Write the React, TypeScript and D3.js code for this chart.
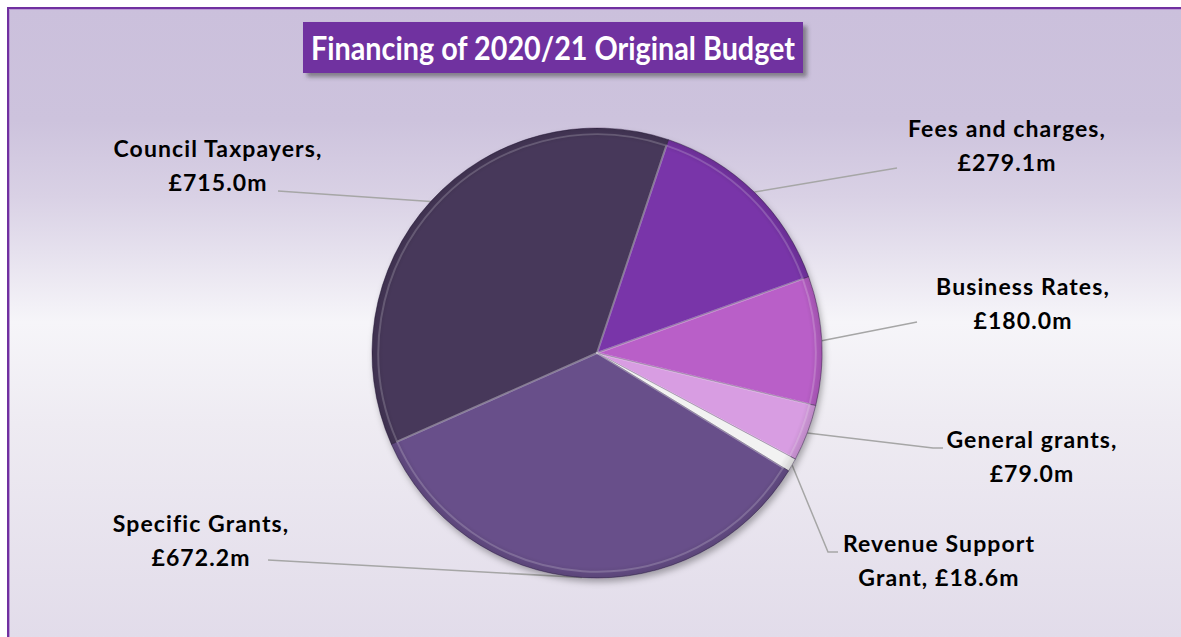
import React from "react";
import * as d3 from "d3";

const categories = [
  "Fees and charges",
  "Business Rates",
  "General grants",
  "Revenue Support Grant",
  "Specific Grants",
  "Council Taxpayers",
];
const values = [279.1, 180.0, 79.0, 18.6, 672.2, 715.0];
const labelLines = [
  ["Fees and charges,", "£279.1m"],
  ["Business Rates,", "£180.0m"],
  ["General grants,", "£79.0m"],
  ["Revenue Support", "Grant, £18.6m"],
  ["Specific Grants,", "£672.2m"],
  ["Council Taxpayers,", "£715.0m"],
];
const title = "Financing of 2020/21 Original Budget";

// layout (not data)
const sliceColors = ["#7936a9", "#b95fc8", "#d89de2", "#f2f2f2", "#67508a", "#46375a"];
const labelPos = [
  { x: 1007, y: 137, leader: [[897, 168]] },
  { x: 1023, y: 295, leader: [[917, 322]] },
  { x: 1032, y: 448, leader: [[933, 448], [943, 448]] },
  { x: 939, y: 552, leader: [[828, 552], [838, 552]] },
  { x: 201, y: 532, leader: [[268, 560]] },
  { x: 218, y: 157, leader: [[278, 191]] },
];
const W = 1181;
const H = 637;
const cx = 597;
const cy = 353;
const R = 225;
const FONT = "Lato, 'Open Sans', sans-serif";

export default function App() {
  const start = (18.5 * Math.PI) / 180;
  const pie = d3
    .pie<number>()
    .sort(null)
    .value((d) => d)
    .startAngle(start)
    .endAngle(start + 2 * Math.PI);
  const arcs = pie(values);
  const arc = d3.arc<d3.PieArcDatum<number>>().innerRadius(0).outerRadius(R);
  const innerArc = d3.arc<d3.PieArcDatum<number>>().innerRadius(0).outerRadius(R - 3);
  const edgeArc = d3.arc<d3.PieArcDatum<number>>().innerRadius(R).outerRadius(R);

  return (
    <svg
      width={W}
      height={H}
      style={{ position: "absolute", left: 0, top: 0 }}
      xmlns="http://www.w3.org/2000/svg"
    >
      <defs>
        <linearGradient id="bg" gradientUnits="userSpaceOnUse" x1="0" y1="8" x2="0" y2="637">
          <stop offset="0" stopColor="#cbc0dc" />
          <stop offset="0.18" stopColor="#cdc3dd" />
          <stop offset="0.3" stopColor="#d9d1e5" />
          <stop offset="0.5" stopColor="#f6f5f9" />
          <stop offset="0.66" stopColor="#eeebf2" />
          <stop offset="1" stopColor="#e2dcea" />
        </linearGradient>
        <filter id="shadow" x="-20%" y="-20%" width="140%" height="140%">
          <feDropShadow dx="2" dy="4" stdDeviation="3" floodColor="#000" floodOpacity="0.3" />
        </filter>
        <filter id="tshadow" x="-10%" y="-30%" width="120%" height="160%">
          <feDropShadow dx="4" dy="4" stdDeviation="2" floodColor="#444" floodOpacity="0.55" />
        </filter>
        <radialGradient id="sheen" cx={cx} cy={cy} r={R} gradientUnits="userSpaceOnUse">
          <stop offset="0.95" stopColor="#000" stopOpacity="0" />
          <stop offset="0.995" stopColor="#000" stopOpacity="0.12" />
          <stop offset="1" stopColor="#000" stopOpacity="0.2" />
        </radialGradient>
      </defs>

      <rect x={0} y={0} width={W} height={H} fill="#fff" />
      <rect x={8} y={8} width={W + 20} height={H + 20} fill="url(#bg)" stroke="#7030a0" strokeWidth={2} />
      <line x1={9.5} y1={9.5} x2={9.5} y2={H} stroke="#b99ad3" strokeWidth={1} />
      <line x1={9.5} y1={9.5} x2={W} y2={9.5} stroke="#b99ad3" strokeWidth={1} />

      {/* Title */}
      <g filter="url(#tshadow)">
        <rect x={303} y={22} width={500} height={51} fill="#7030a0" />
      </g>
      <text
        x={553}
        y={60}
        textAnchor="middle"
        fill="#fff"
        fontFamily={FONT}
        fontWeight={700}
        fontSize={32}
        textLength={484}
        lengthAdjust="spacingAndGlyphs"
      >
        {title}
      </text>

      {/* Leader lines */}
      {arcs.map((a, i) => {
        const [ex, ey] = edgeArc.centroid(a);
        const pts = [[cx + ex, cy + ey], ...labelPos[i].leader];
        return (
          <polyline
            key={"l" + i}
            points={pts.map((p) => p.join(",")).join(" ")}
            fill="none"
            stroke="#a6a6a6"
            strokeWidth={1.5}
          />
        );
      })}

      {/* Pie */}
      <g transform={`translate(${cx},${cy})`} filter="url(#shadow)">
        {arcs.map((a, i) => (
          <path
            key={"s" + i}
            d={arc(a) || ""}
            fill={sliceColors[i]}
            stroke="rgba(40,25,60,0.4)"
            strokeWidth={1}
            strokeLinejoin="round"
          />
        ))}
      </g>
      <g transform={`translate(${cx},${cy})`}>
        {arcs.map((a, i) => (
          <path
            key={"h" + i}
            d={innerArc(a) || ""}
            fill="none"
            stroke="rgba(255,255,255,0.2)"
            strokeWidth={2}
            strokeLinejoin="round"
            transform="scale(0.985)"
          />
        ))}
      </g>
      <circle cx={cx} cy={cy} r={R} fill="url(#sheen)" />

      {/* Labels */}
      {categories.map((c, i) => (
        <text
          key={"t" + c}
          textAnchor="middle"
          fontFamily={FONT}
          fontWeight={700}
          fontSize={23}
          letterSpacing={1.1}
          fill="#000"
        >
          {labelLines[i].map((ln, j) => (
            <tspan key={j} x={labelPos[i].x} y={labelPos[i].y + j * 34}>
              {ln}
            </tspan>
          ))}
        </text>
      ))}
    </svg>
  );
}
